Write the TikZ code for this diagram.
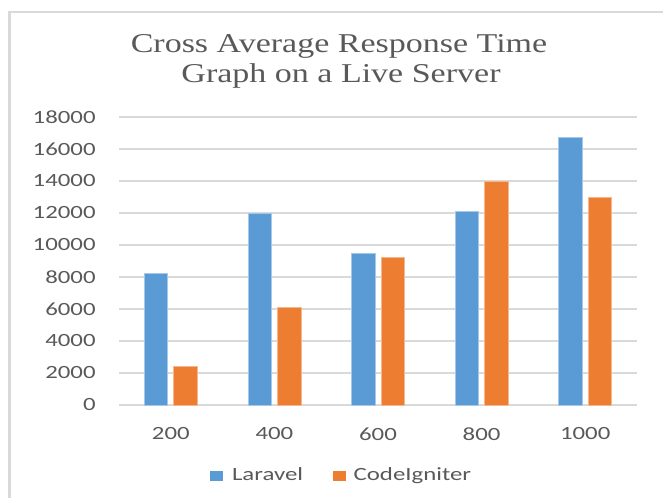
\documentclass[tikz,border=0pt]{standalone}
\usepackage{fontspec}
\setmainfont{Liberation Serif}
\newfontfamily\axisfont{Carlito}
\usetikzlibrary{positioning,calc}

\definecolor{barblue}{HTML}{5B9BD5}
\definecolor{barorange}{HTML}{ED7D31}
\definecolor{gridgray}{HTML}{D9D9D9}
\definecolor{textgray}{HTML}{595959}

\tikzset{
  gridline/.style={draw=gridgray, line width=1pt},
  ticklabel/.style={font=\axisfont\fontsize{14}{16}\selectfont, text=textgray, inner sep=0pt, xscale=1.33},
  titleline/.style={font=\fontsize{20.4}{22.5}\selectfont, text=textgray, inner sep=0pt, xscale=1.25},
  lbar/.style={fill=barblue, draw=barblue!55!white, line width=0.5pt},
  cbar/.style={fill=barorange, draw=barorange!55!white, line width=0.5pt},
  legendkey/.style={minimum width=13*0.75pt, minimum height=10*0.75pt, inner sep=0pt}
}

\begin{document}
\begin{tikzpicture}[x=0.75pt, y=0.75pt]
    \useasboundingbox (0,0) rectangle (663,498);

    % Chart frame
    \draw [gridgray, line width=1.8pt] (9.5,0) -- (9.5,486) -- (663,486);

    % Title
    \node [titleline, anchor=base] (title1) at (339,445) {Cross Average Response Time};
    \node [titleline, anchor=base] (title2) at (341,415) {Graph on a Live Server};

    % Plot area
    \begin{scope}[shift={(119,93)}, y=12pt]
        \foreach \v in {0,2,...,18}
            \draw [gridline] (0,\v) -- (518,\v);
        \foreach \v/\val in {0/0, 2/2000, 4/4000, 6/6000, 8/8000, 10/10000, 12/12000, 14/14000, 16/16000, 18/18000}
            \node [ticklabel, anchor=east] (y\v) at (-23,\v) {\val};

        \foreach \i/\cat/\lar/\ci in {1/200/8.2/2.4, 2/400/12/6.1, 3/600/9.5/9.2, 4/800/12.1/14, 5/1000/16.7/13} {
            \pgfmathsetmacro\c{103.6*(\i-0.5)}
            \draw [lbar] (\c-26.5,0) rectangle (\c-3,\lar);
            \draw [cbar] (\c+3,0) rectangle (\c+26.5,\ci);
            \node [ticklabel] (x\cat) at (\c,-1.8125) {\cat};
        }
    \end{scope}

    % Legend
    \node [legendkey, fill=barblue] (keylaravel) at (216.7,22) {};
    \node [ticklabel, anchor=base west] (laravel) at (231.7,17) {Laravel};
    \node [legendkey, fill=barorange] (keyci) at (339.7,22) {};
    \node [ticklabel, anchor=base west] (codeigniter) at (353.3,17) {CodeIgniter};
\end{tikzpicture}
\end{document}
